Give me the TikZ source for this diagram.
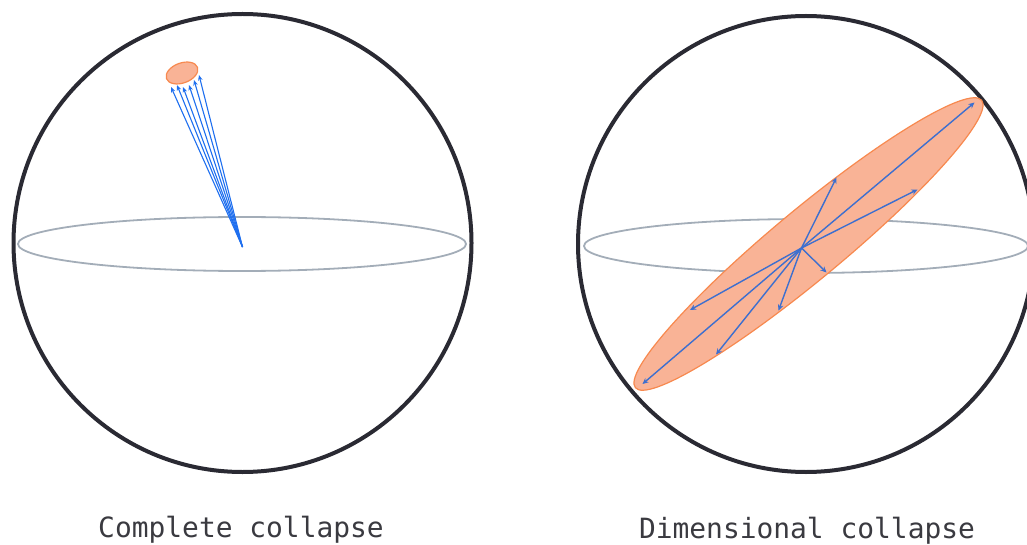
\documentclass[tikz,border=0pt]{standalone}
\usepackage{fontspec}
\setmonofont{DejaVu Sans Mono}
\usetikzlibrary{arrows.meta}
\definecolor{ringc}{HTML}{2A2A33}
\definecolor{eqc}{HTML}{A3ADB8}
\definecolor{orfill}{HTML}{F9B396}
\definecolor{ordraw}{HTML}{F7894F}
\definecolor{blueR}{HTML}{3D6FCF}
\definecolor{blueL}{HTML}{1F6FEF}
\definecolor{txtc}{HTML}{3A3A40}
\tikzset{
  ring/.style={draw=ringc,line width=4pt},
  equator/.style={draw=eqc,line width=1.8pt},
  blob/.style={fill=orfill,draw=ordraw,line width=1.2pt},
  vecR/.style={draw=blueR,line width=1.4pt,-{Stealth[length=6pt,width=5.5pt]}},
  vecL/.style={draw=blueL,line width=1.1pt,-{Stealth[length=5.5pt,width=4.5pt]}},
  caption/.style={font=\ttfamily\fontsize{27.9}{30}\selectfont,text=txtc,inner sep=0pt}
}
\begin{document}
\begin{tikzpicture}[x=1pt,y=-1pt]
\useasboundingbox (0,0) rectangle (1027,545);
\clip (0,0) rectangle (1027,545);
% ---------- left sphere ----------
\draw[ring] (242.5,243) circle (229);
\draw[equator] (242,244) ellipse [x radius=224, y radius=27];
\draw[blob, rotate around={20:(182,73)}] (182,73) ellipse [x radius=16.5, y radius=10];
\coordinate (oL) at (242.5,247);
\foreach \i/\x/\y in {1/171/87,2/177/85,3/183/87,4/189/85,5/194/80,6/199/75}{
  \coordinate (tL\i) at (\x,\y);
  \draw[vecL] (oL) -- (tL\i);
}
% ---------- right sphere ----------
\draw[ring] (806,244) circle (228);
\draw[equator] (806,246) ellipse [x radius=222, y radius=27];
\draw[blob, rotate around={39.7:(808.5,244)}] (808.5,244) ellipse [x radius=225, y radius=35];
\coordinate (oR) at (801.5,248);
\foreach \i/\x/\y in {1/974.5/102.5,2/836.5/177.5,3/917.5/189.5,4/826.5/272.5,5/690/310,6/778.5/310.5,7/716/354.5,8/642.5/384}{
  \coordinate (tR\i) at (\x,\y);
  \draw[vecR] (oR) -- (tR\i);
}
% ---------- captions ----------
\node[caption] (capL) at (241,530) {Complete collapse};
\node[caption] (capR) at (807,531) {Dimensional collapse};
\end{tikzpicture}
\end{document}
